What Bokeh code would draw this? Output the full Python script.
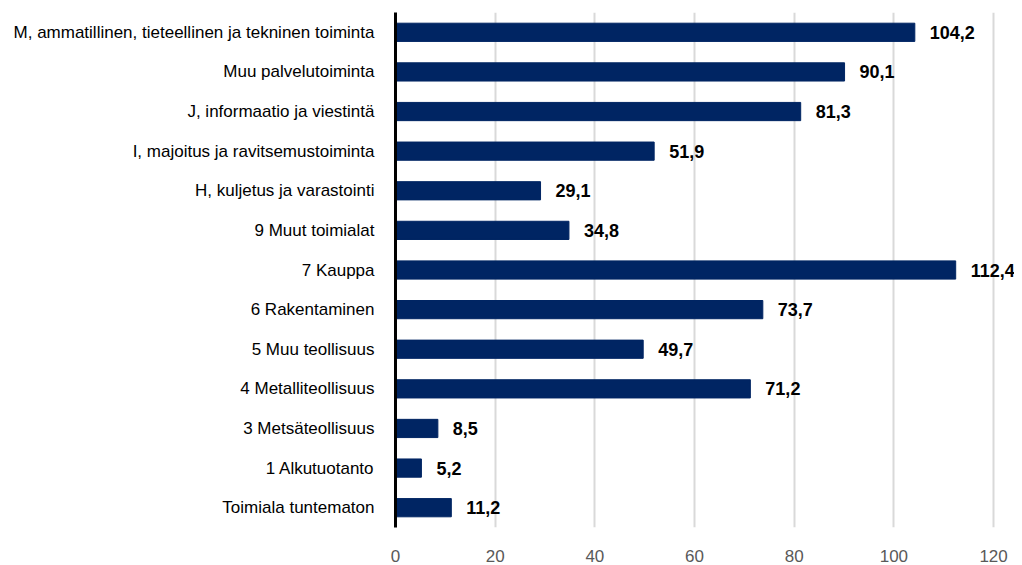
from bokeh.plotting import figure
from bokeh.models import ColumnDataSource, FactorRange, Range1d, FixedTicker
from bokeh.core.properties import value
from bokeh.embed import file_html
from bokeh.resources import INLINE

categories = [
    "M, ammatillinen, tieteellinen ja tekninen toiminta",
    "Muu palvelutoiminta",
    "J, informaatio ja viestintä",
    "I, majoitus ja ravitsemustoiminta",
    "H, kuljetus ja varastointi",
    "9 Muut toimialat",
    "7 Kauppa",
    "6 Rakentaminen",
    "5 Muu teollisuus",
    "4 Metalliteollisuus",
    "3 Metsäteollisuus",
    "1 Alkutuotanto",
    "Toimiala tuntematon",
]
values = [104.2, 90.1, 81.3, 51.9, 29.1, 34.8, 112.4, 73.7, 49.7, 71.2, 8.5, 5.2, 11.2]
x_ticks = [0, 20, 40, 60, 80, 100, 120]

FONT = "Liberation Sans"
BAR = "#002563"

labels = [f"{v:.1f}".replace(".", ",") for v in values]
src = ColumnDataSource(dict(cat=categories, val=values, lab=labels))

p = figure(
    y_range=FactorRange(*reversed(categories), range_padding=0),
    x_range=Range1d(0, 124.2),
    frame_width=619, frame_height=515,
    min_border_left=395, min_border_right=0, min_border_top=12, min_border_bottom=38,
    output_backend="svg", toolbar_location=None,
)
p.hbar(y="cat", right="val", left=0, height=0.46, color=BAR, source=src)
p.text(x="val", y="cat", text="lab", source=src, x_offset=15,
       text_align="left", text_baseline="middle",
       text_font=value(FONT), text_font_style="bold", text_font_size="18px",
       text_color="#000000")

p.outline_line_color = None
p.ygrid.grid_line_color = None
p.xgrid.grid_line_color = "#d9d9d9"
p.xgrid.grid_line_width = 2
p.xaxis.ticker = FixedTicker(ticks=x_ticks)
p.xaxis.axis_line_color = None
p.xaxis.major_tick_line_color = None
p.xaxis.minor_tick_line_color = None
p.xaxis.major_label_text_font = FONT
p.xaxis.major_label_text_font_size = "17px"
p.xaxis.major_label_text_color = "#595959"
p.xaxis.major_label_standoff = 16

p.yaxis.axis_line_color = "#000000"
p.yaxis.axis_line_width = 3
p.yaxis.major_tick_line_color = None
p.yaxis.minor_tick_line_color = None
p.yaxis.major_label_text_font = FONT
p.yaxis.major_label_text_font_size = "17px"
p.yaxis.major_label_text_color = "#000000"
p.yaxis.major_label_standoff = 15

open("out.html", "w").write(file_html(p, INLINE))
